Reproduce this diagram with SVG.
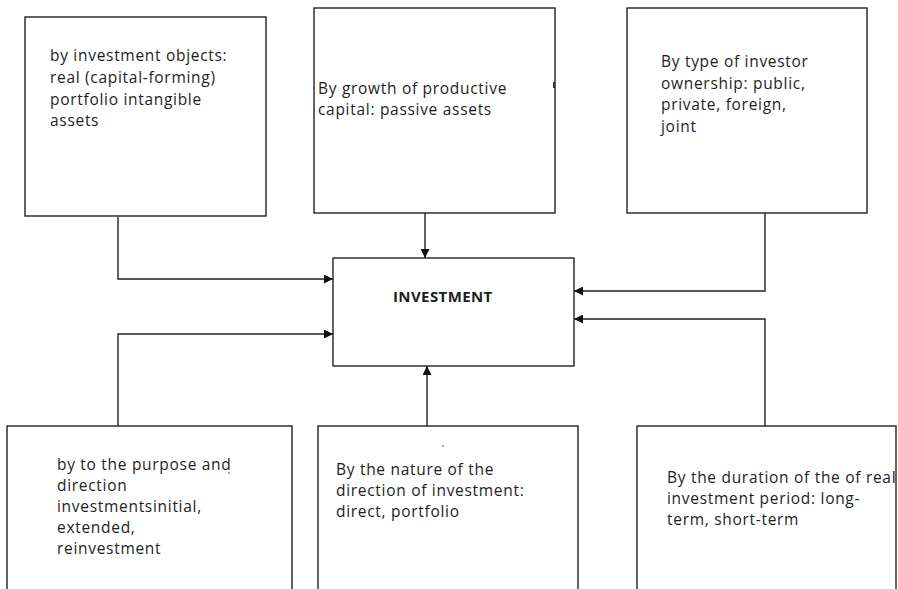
<svg xmlns="http://www.w3.org/2000/svg" width="898" height="589" viewBox="0 0 898 589">
<defs>
<marker id="ah" viewBox="0 0 10 10" refX="10" refY="5" markerWidth="10" markerHeight="9" markerUnits="userSpaceOnUse" orient="auto">
<path d="M0,0 L10,5 L0,10 Z" fill="#111"/>
</marker>
<style>
.box{fill:#fff;stroke:#222;stroke-width:1.4}
.t{font-family:"Open Sans","Liberation Sans",sans-serif;font-size:15.5px;letter-spacing:0.7px;fill:#1e1e1e}
.b{font-family:"Open Sans","Liberation Sans",sans-serif;font-size:15px;letter-spacing:0.4px;font-weight:bold;fill:#1e1e1e}
.c{fill:none;stroke:#222;stroke-width:1.4}
</style>
</defs>
<rect width="898" height="589" fill="#fff"/>
<g id="connectors">
<path class="c" d="M118,217 V279 H333" marker-end="url(#ah)"/>
<path class="c" d="M425,213 V258" marker-end="url(#ah)"/>
<path class="c" d="M765,213 V291 H574" marker-end="url(#ah)"/>
<path class="c" d="M118,426 V334 H333" marker-end="url(#ah)"/>
<path class="c" d="M427,426 V366" marker-end="url(#ah)"/>
<path class="c" d="M765,426 V319 H574" marker-end="url(#ah)"/>
</g>
<g id="n1">
<rect class="box" x="25" y="17" width="241" height="199"/>
<text class="t"><tspan x="50" y="61">by investment objects:</tspan><tspan x="50" y="83">real (capital-forming)</tspan><tspan x="50" y="105">portfolio intangible</tspan><tspan x="50" y="126">assets</tspan></text>
</g>
<g id="n2">
<rect class="box" x="314" y="8" width="241" height="205"/>
<text class="t"><tspan x="318" y="94">By growth of productive</tspan><tspan x="318" y="115">capital: passive assets</tspan></text>
<rect x="553" y="82" width="2" height="6" fill="#333"/>
</g>
<g id="n3">
<rect class="box" x="627" y="8" width="240" height="205"/>
<text class="t"><tspan x="661" y="67">By type of investor</tspan><tspan x="661" y="89">ownership: public,</tspan><tspan x="661" y="110">private, foreign,</tspan><tspan x="661" y="132">joint</tspan></text>
</g>
<g id="center">
<rect class="box" x="333" y="258" width="241" height="108"/>
<text class="b" x="393" y="302">INVESTMENT</text>
</g>
<g id="n4">
<rect class="box" x="7" y="426" width="285" height="175"/>
<text class="t"><tspan x="57" y="470">by to the purpose and</tspan><tspan x="57" y="491">direction</tspan><tspan x="57" y="512">investmentsinitial,</tspan><tspan x="57" y="533">extended,</tspan><tspan x="57" y="554">reinvestment</tspan></text>
<circle cx="229" cy="473" r="0.8" fill="#333"/>
</g>
<g id="n5">
<rect class="box" x="318" y="426" width="260" height="175"/>
<circle cx="443" cy="446" r="0.8" fill="#333"/>
<text class="t"><tspan x="336" y="475">By the nature of the</tspan><tspan x="336" y="496">direction of investment:</tspan><tspan x="336" y="517">direct, portfolio</tspan></text>
</g>
<g id="n6">
<rect class="box" x="637" y="426" width="259" height="175"/>
<text class="t"><tspan x="667" y="483">By the duration of the of real</tspan><tspan x="667" y="504">investment period: long-</tspan><tspan x="667" y="525">term, short-term</tspan></text>
</g>
</svg>
